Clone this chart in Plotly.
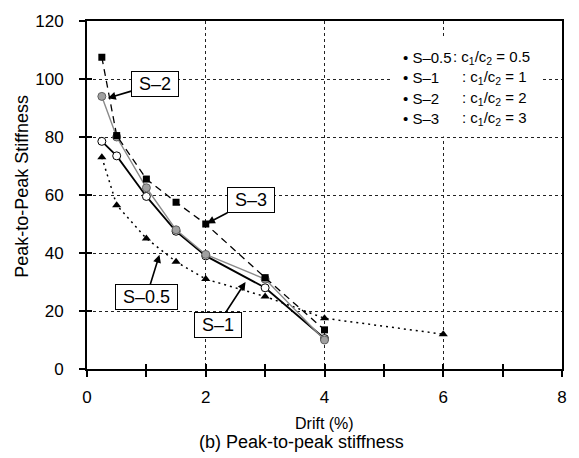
import plotly.graph_objects as go

# ---- data ----
drift = [0.25, 0.5, 1, 1.5, 2, 3, 4]
drift_s05 = [0.25, 0.5, 1, 1.5, 2, 3, 4, 6]
s05 = [73, 56.5, 45, 37, 31, 25, 17.5, 12]
s1 = [78.5, 73.5, 59.5, 47.5, 39, 28, 10.5]
s2 = [94, 80, 62.5, 48, 39.5, 31, 10]
s3 = [107.5, 80.5, 65.5, 57.5, 50, 31.5, 13.5]

spec_names = ["S–0.5", "S–1", "S–2", "S–3"]
spec_ratios = ["0.5", "1", "2", "3"]

x_ticks = [0, 2, 4, 6, 8]
y_ticks = [0, 20, 40, 60, 80, 100, 120]

FONT = "Liberation Sans, Arial, sans-serif"

fig = go.Figure()

fig.add_trace(go.Scatter(x=drift_s05, y=s05, mode="lines+markers", name="S-0.5",
                         line=dict(color="black", width=1.5, dash="2px,4px"),
                         marker=dict(symbol="triangle-up", size=8, color="black")))
fig.add_trace(go.Scatter(x=drift, y=s1, mode="lines+markers", name="S-1",
                         line=dict(color="black", width=1.8),
                         marker=dict(symbol="circle", size=8, color="white",
                                     line=dict(color="black", width=1))))
fig.add_trace(go.Scatter(x=drift, y=s2, mode="lines+markers", name="S-2",
                         line=dict(color="#8a8a8a", width=1.4),
                         marker=dict(symbol="circle", size=8, color="#a0a0a0",
                                     line=dict(color="#606060", width=1))))
fig.add_trace(go.Scatter(x=drift, y=s3, mode="lines+markers", name="S-3",
                         line=dict(color="black", width=1.3, dash="7px,5px"),
                         marker=dict(symbol="square", size=7, color="black")))

# dummy trace for the overlay axes (inner half of crossing ticks)
fig.add_trace(go.Scatter(x=[None], y=[None], xaxis="x2", yaxis="y2",
                         showlegend=False, hoverinfo="skip"))

grid = dict(showgrid=True, gridcolor="#222", gridwidth=1, griddash="dot")

fig.update_layout(
    width=579, height=458,
    margin=dict(l=87, r=13, t=13, b=89),
    paper_bgcolor="white", plot_bgcolor="white",
    showlegend=False,
    font=dict(family=FONT, size=17, color="black"),
    xaxis=dict(range=[0, 8], tickvals=x_ticks, ticks="outside", ticklen=6,
               tickwidth=1.5, tickcolor="black",
               minor=dict(dtick=1, tick0=0, ticks="outside", ticklen=6,
                          tickwidth=1.5, tickcolor="black", showgrid=False),
               showline=True, linecolor="black", linewidth=2, mirror=True,
               zeroline=False, ticklabelstandoff=6,
               tickfont=dict(size=17), **grid),
    yaxis=dict(range=[0, 120], tickvals=y_ticks, ticks="outside", ticklen=6,
               tickwidth=1.5, tickcolor="black",
               showline=True, linecolor="black", linewidth=2, mirror=True,
               zeroline=False, ticklabelstandoff=12,
               tickfont=dict(size=17), **grid),
    xaxis2=dict(overlaying="x", range=[0, 8], dtick=1, tick0=0, ticks="inside",
                ticklen=5, tickwidth=1.5, tickcolor="black", showticklabels=False,
                showgrid=False, zeroline=False, showline=False, side="bottom"),
    yaxis2=dict(overlaying="y", range=[0, 120], dtick=20, tick0=0, ticks="inside",
                ticklen=5, tickwidth=1.5, tickcolor="black", showticklabels=False,
                showgrid=False, zeroline=False, showline=False, side="left"),
)

# white area behind the text legend
fig.add_shape(type="rect", xref="paper", yref="paper", x0=0.643, x1=0.958,
              y0=0.668, y1=0.955, fillcolor="white", line=dict(width=0),
              layer="above")

ann = []
# text legend
row_y = [0.896, 0.837, 0.778, 0.719]
colon_x = [0.766, 0.785, 0.785, 0.785]
for name, ratio, yy, cx in zip(spec_names, spec_ratios, row_y, colon_x):
    ann.append(dict(text="• " + name, x=0.660, y=yy, xref="paper", yref="paper",
                    xanchor="left", yanchor="middle", showarrow=False,
                    font=dict(size=15)))
    ann.append(dict(text=": c<sub>1</sub>/c<sub>2</sub> = " + ratio, x=cx, y=yy,
                    xref="paper", yref="paper", xanchor="left", yanchor="middle",
                    showarrow=False, font=dict(size=15)))

# callout labels with arrows
callouts = [
    (spec_names[2], 0.35, 93.4, 47, -14),
    (spec_names[3], 2.02, 50.2, 44, -23),
    (spec_names[0], 1.22, 39.4, -13, 42),
    (spec_names[1], 2.67, 30.0, -28, 43),
]
for txt, x, y, axp, ayp in callouts:
    ann.append(dict(text=" " + txt + " ", x=x, y=y, xref="x", yref="y",
                    ax=axp, ay=ayp, showarrow=True, arrowhead=2, arrowsize=1,
                    arrowwidth=1.6, arrowcolor="black", bgcolor="white",
                    bordercolor="black", borderwidth=1, borderpad=2,
                    font=dict(size=18)))

# axis titles and caption
ann.append(dict(text="Peak-to-Peak Stiffness", x=-0.136, y=0.525, xref="paper",
                yref="paper", textangle=-90, showarrow=False,
                xanchor="center", yanchor="middle", font=dict(size=18)))
ann.append(dict(text="Drift (%)", x=0.5, y=-0.125, xref="paper", yref="paper",
                showarrow=False, xanchor="center", yanchor="top",
                font=dict(size=16)))
ann.append(dict(text="(b) Peak-to-peak stiffness", x=0.451, y=-0.175,
                xref="paper", yref="paper", showarrow=False, xanchor="center",
                yanchor="top", font=dict(size=18)))

fig.update_layout(annotations=ann)

fig.write_html("out.html")
